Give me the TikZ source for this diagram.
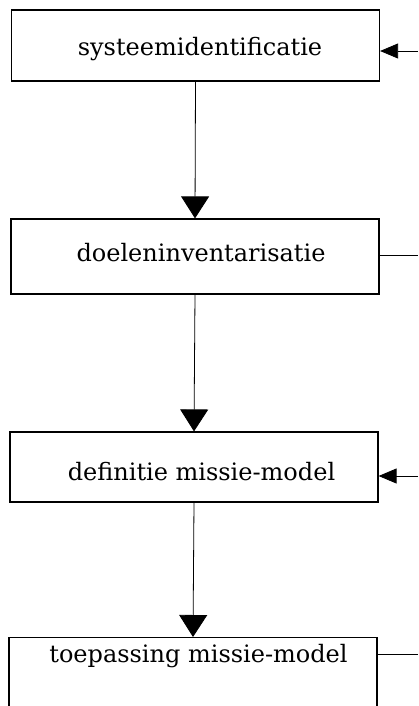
\documentclass[tikz,border=0pt]{standalone}
\usepackage{fontspec}
\setmainfont{DejaVu Serif}
\usetikzlibrary{arrows.meta}
\begin{document}
\begin{tikzpicture}[x=1pt,y=-1pt,
  box/.style={draw,line width=1.2pt,rectangle,minimum width=368pt,inner sep=0pt},
  lbl/.style={inner sep=0pt,font=\fontsize{24}{28}\selectfont},
  flow/.style={line width=0.8pt,-{Triangle[width=28pt,length=22pt]}},
  feed/.style={line width=0.8pt,-{Triangle[width=15pt,length=18pt]}},
  outl/.style={line width=0.8pt}]
\useasboundingbox (0,0) rectangle (418,706);
\clip (0,0) rectangle (418,706);
\node[box,minimum height=71pt] (b1) at (195.5,45.5) {};
\node[box,minimum height=75pt] (b2) at (195,256.5) {};
\node[box,minimum height=70pt] (b3) at (194,467) {};
\node[box,minimum height=76pt,anchor=north] (b4) at (193,637) {};
\node[lbl] (t1) at (200,49) {systeemidentificatie};
\node[lbl] (t2) at (201,253) {doeleninventarisatie};
\node[lbl] (t3) at (201.5,471.5) {definitie missie-model};
\node[lbl] (t4) at (198.5,656) {toepassing missie-model};
\draw[flow] (b1.south) -- (b2.north);
\draw[flow] (b2.south) -- (b3.north);
\draw[flow] (b3.south) -- (b4.north);
\coordinate (r1) at (418,51);
\coordinate (r2) at (418,255);
\coordinate (r3) at (418,476);
\coordinate (r4) at (418,654);
\draw[feed] (r1) -- (b1.east |- r1);
\draw[outl] (b2.east |- r2) -- (r2);
\draw[feed] (r3) -- (b3.east |- r3);
\draw[outl] (b4.east |- r4) -- (r4);
\end{tikzpicture}
\end{document}
